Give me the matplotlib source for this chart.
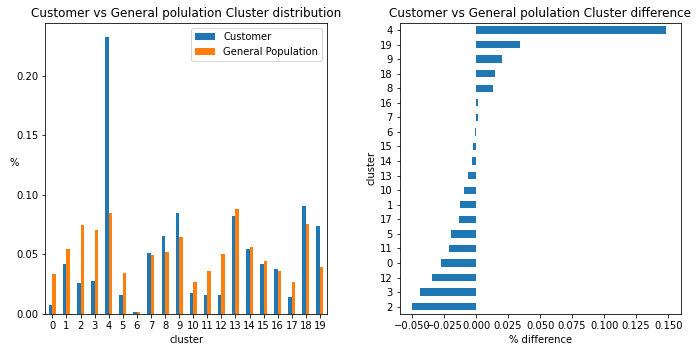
import numpy as np
import pandas as pd
import matplotlib
matplotlib.use("Agg")
import matplotlib.pyplot as plt

clusters = list(range(20))
customer = [0.0075, 0.0419, 0.0260, 0.0277, 0.2330, 0.0159, 0.0017, 0.0511, 0.0654, 0.0846,
            0.0176, 0.0159, 0.0159, 0.0821, 0.0545, 0.0419, 0.0377, 0.0142, 0.0905, 0.0737]
general = [0.0335, 0.0545, 0.0746, 0.0704, 0.0846, 0.0344, 0.0017, 0.0494, 0.0520, 0.0645,
           0.0268, 0.0360, 0.0503, 0.0880, 0.0561, 0.0444, 0.0360, 0.0268, 0.0754, 0.0394]
difference = [-0.0273, -0.0125, -0.0500, -0.0438, 0.1484, -0.0195, -0.0008, 0.0016, 0.0133, 0.0203,
              -0.0094, -0.0211, -0.0344, -0.0063, -0.0031, -0.0023, 0.0017, -0.0133, 0.0148, 0.0344]

diff = pd.Series(difference, index=clusters).sort_values()

fig = plt.figure(figsize=(698/72, 352/72), dpi=72)
ax1 = fig.add_axes([0.0649, 0.108, 0.4036, 0.8275])
ax2 = fig.add_axes([0.573, 0.108, 0.4026, 0.8275])

x = np.arange(len(clusters))
ax1.bar(x - 0.125, customer, width=0.25, color="#1f77b4", label="Customer")
ax1.bar(x + 0.125, general, width=0.25, color="#ff7f0e", label="General Population")
ax1.set_xticks(x)
ax1.set_xticklabels([str(c) for c in clusters])
ax1.set_xlim(-0.5, 19.5)
ax1.set_ylim(0, 0.2447)
ax1.set_yticks([0, 0.05, 0.10, 0.15, 0.20])
ax1.set_xlabel("cluster")
ax1.set_ylabel("%", rotation=0, labelpad=2)
ax1.set_title("Customer vs General polulation Cluster distribution")
ax1.legend(loc="upper right")

y = np.arange(len(diff))
ax2.barh(y, diff.values, height=0.5, color="#1f77b4")
ax2.set_yticks(y)
ax2.set_yticklabels([str(c) for c in diff.index])
ax2.set_ylim(-0.5, 19.5)
ax2.set_xticks([-0.05, -0.025, 0, 0.025, 0.05, 0.075, 0.1, 0.125, 0.15])
ax2.set_xlim(-0.0594, 0.160)
ax2.set_xlabel("% difference")
ax2.set_ylabel("cluster")
ax2.set_title("Customer vs General polulation Cluster difference")

fig.savefig("out.png", dpi=72)
